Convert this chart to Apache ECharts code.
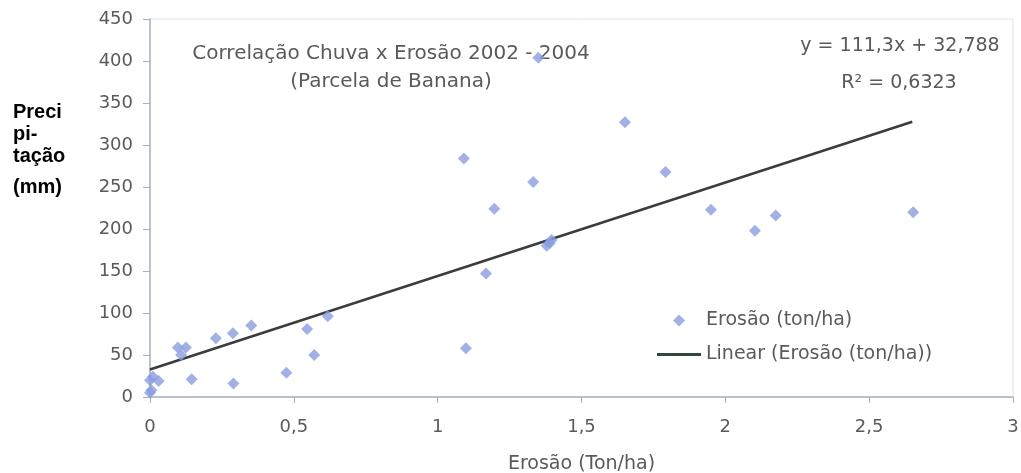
<!DOCTYPE html>
<html>
<head>
<meta charset="utf-8">
<script src="https://cdn.jsdelivr.net/npm/echarts@6/dist/echarts.min.js"></script>
<style>
html,body{margin:0;padding:0;background:#fff;}
#chart{width:1021px;height:473px;}
</style>
</head>
<body>
<div id="chart"></div>
<script>
// ---- data ----
var erosaoX = [0, 0.005, 0, 0.01, 0.03, 0.097, 0.108, 0.125, 0.145, 0.229, 0.288, 0.29, 0.352, 0.474, 0.546, 0.571, 0.618,
               1.091, 1.098, 1.168, 1.197, 1.332, 1.35, 1.379, 1.389, 1.396, 1.651, 1.792, 1.95, 2.103, 2.175, 2.653];
var precipY = [5, 8, 20, 24, 19, 59, 50, 59, 21, 70, 76, 16, 85, 29, 81, 50, 96,
               284, 58, 147, 224, 256, 404, 180, 183, 187, 327, 268, 223, 198, 216, 220];
var trendX = [0, 2.65];
var trendY = [32.8, 327.7];
var seriesNames = ['Erosão (ton/ha)', 'Linear (Erosão (ton/ha))'];
var titleLines = ['Correlação Chuva x Erosão 2002 - 2004', '(Parcela de Banana)'];
var equationLines = ['y = 111,3x + 32,788', 'R² = 0,6323'];
var yTitleLines = ['Preci', 'pi-', 'tação', '(mm)'];
var xAxisName = 'Erosão (Ton/ha)';

var scatterData = erosaoX.map(function (x, i) { return [x, precipY[i]]; });
var trendData = trendX.map(function (x, i) { return [x, trendY[i]]; });

var FONT = '"DejaVu Sans", sans-serif';
var BOLD = 'bold 20px "Liberation Sans", Arial, sans-serif';
var GRAY = '#5a5a5a';
var DOT = '#8a9ee0';

function txt(s, x, y, font, fill, align) {
  return {type: 'text', style: {text: s, x: x, y: y, font: font, fill: fill, textAlign: align, textVerticalAlign: 'middle'}};
}

var chart = echarts.init(document.getElementById('chart'), null, {renderer: 'canvas'});
chart.setOption({
  animation: false,
  backgroundColor: '#ffffff',
  grid: {left: 150, right: 8, top: 19, bottom: 76, show: true, borderColor: '#dde2ea', borderWidth: 1,
         containLabel: false, outerBoundsMode: 'none'},
  xAxis: {
    type: 'value', min: 0, max: 3, interval: 0.5,
    name: xAxisName, nameLocation: 'middle', nameGap: 58,
    nameTextStyle: {fontFamily: FONT, fontSize: 19, color: GRAY},
    axisLine: {show: true, lineStyle: {color: '#a9b0c0', width: 1.5}},
    axisTick: {show: true, length: 6, lineStyle: {color: '#a9b0c0'}},
    splitLine: {show: false},
    axisLabel: {fontFamily: FONT, fontSize: 18, color: GRAY, margin: 21,
      formatter: function (v) { return String(v).replace('.', ','); }}
  },
  yAxis: {
    type: 'value', min: 0, max: 450, interval: 50,
    axisLine: {show: true, lineStyle: {color: '#a9b0c8', width: 1.5}},
    axisTick: {show: true, length: 7, lineStyle: {color: '#a9b0c8'}},
    splitLine: {show: false},
    axisLabel: {fontFamily: FONT, fontSize: 18, color: GRAY, margin: 17}
  },
  legend: [
    {
      left: 668, top: 306, itemWidth: 12, itemHeight: 12,
      textStyle: {fontFamily: FONT, fontSize: 19, color: GRAY, padding: [0, 0, 0, 16]},
      data: [{name: seriesNames[0], icon: 'diamond', itemStyle: {color: DOT}}]
    },
    {
      left: 652, top: 340, itemWidth: 44, itemHeight: 3,
      textStyle: {fontFamily: FONT, fontSize: 19, color: GRAY},
      data: [{name: seriesNames[1], icon: 'rect', itemStyle: {color: '#2f4a3a'}}]
    }
  ],
  series: [
    {
      name: seriesNames[0], type: 'scatter', symbol: 'diamond', symbolSize: 12,
      itemStyle: {color: DOT}, data: scatterData, z: 3
    },
    {
      name: seriesNames[1], type: 'line', symbol: 'none', data: trendData,
      lineStyle: {color: '#3a3d3c', width: 2.5}, itemStyle: {color: '#2f4a3a'}, z: 2
    }
  ],
  graphic: [
    txt(titleLines[0], 391, 54, '20px ' + FONT, GRAY, 'center'),
    txt(titleLines[1], 391, 82, '20px ' + FONT, GRAY, 'center'),
    txt(equationLines[0], 900, 46, '19px ' + FONT, GRAY, 'center'),
    txt(equationLines[1], 899, 83, '19px ' + FONT, GRAY, 'center'),
    txt(yTitleLines[0], 13, 112, BOLD, '#000', 'left'),
    txt(yTitleLines[1], 13, 134, BOLD, '#000', 'left'),
    txt(yTitleLines[2], 13, 156, BOLD, '#000', 'left'),
    txt(yTitleLines[3], 13, 187, BOLD, '#000', 'left')
  ]
});
</script>
</body>
</html>
